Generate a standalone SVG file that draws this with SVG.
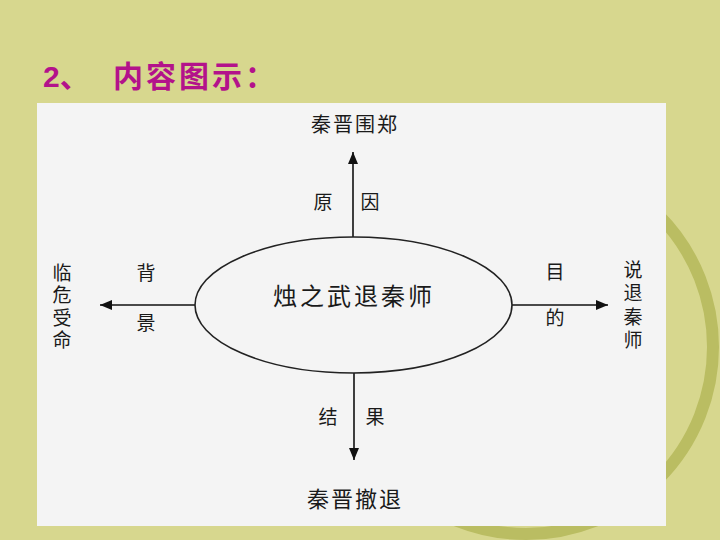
<svg xmlns="http://www.w3.org/2000/svg" width="720" height="540" viewBox="0 0 720 540">
<defs>
<style>
.t{font-family:"Noto Sans CJK SC","Noto Sans",sans-serif;fill:#1a1a1a;}
.s{font-size:19px;}
.v{writing-mode:vertical-rl;font-size:19px;}
.ln{stroke:#111;stroke-width:1.6;fill:none;}
</style>
<marker id="ah" viewBox="0 0 12 10" refX="12" refY="5" markerWidth="12" markerHeight="10" markerUnits="userSpaceOnUse" orient="auto">
<path d="M0,0 L12,5 L0,10 z" fill="#111"/>
</marker>
</defs>
<rect width="720" height="540" fill="#d7d78e"/>
<circle cx="526" cy="347" r="187" fill="none" stroke="#babd62" stroke-width="12"/>
<text x="43" y="87" font-family="Liberation Sans,'Noto Sans CJK SC',sans-serif" font-size="30" font-weight="bold" fill="#b3128b"><tspan>2、</tspan><tspan x="113" font-family="'Noto Sans CJK SC',sans-serif" letter-spacing="3">内容图示：</tspan></text>
<rect x="37" y="103" width="629" height="423" fill="#f4f4f4"/>
<g id="connectors">
<line class="ln" x1="353" y1="237" x2="353" y2="152" marker-end="url(#ah)"/>
<line class="ln" x1="354" y1="373" x2="354" y2="460" marker-end="url(#ah)"/>
<line class="ln" x1="195" y1="305" x2="100" y2="305" marker-end="url(#ah)"/>
<line class="ln" x1="512" y1="305" x2="608" y2="305" marker-end="url(#ah)"/>
<text class="t s" x="323" y="209" text-anchor="middle">原</text>
<text class="t s" x="370" y="209" text-anchor="middle">因</text>
<text class="t s" x="328" y="424" text-anchor="middle">结</text>
<text class="t s" x="375" y="424" text-anchor="middle">果</text>
<text class="t s" x="146" y="280" text-anchor="middle">背</text>
<text class="t s" x="146" y="330" text-anchor="middle">景</text>
<text class="t s" x="555" y="279" text-anchor="middle">目</text>
<text class="t s" x="555" y="325" text-anchor="middle">的</text>
</g>
<g id="center">
<ellipse cx="353.5" cy="305" rx="158.5" ry="68" fill="none" stroke="#222" stroke-width="1.6"/>
<text class="t" x="354" y="305" font-size="24" letter-spacing="3" text-anchor="middle">烛之武退秦师</text>
</g>
<g id="top">
<text class="t" x="355" y="132" font-size="20" letter-spacing="2" text-anchor="middle">秦晋围郑</text>
</g>
<g id="bottom">
<text class="t" x="355" y="507" font-size="22" letter-spacing="2" text-anchor="middle">秦晋撤退</text>
</g>
<g id="left">
<text class="t v" x="62" y="263" letter-spacing="3.5">临危受命</text>
</g>
<g id="right">
<text class="t v" x="633" y="260" letter-spacing="4.5">说退秦师</text>
</g>
</svg>
